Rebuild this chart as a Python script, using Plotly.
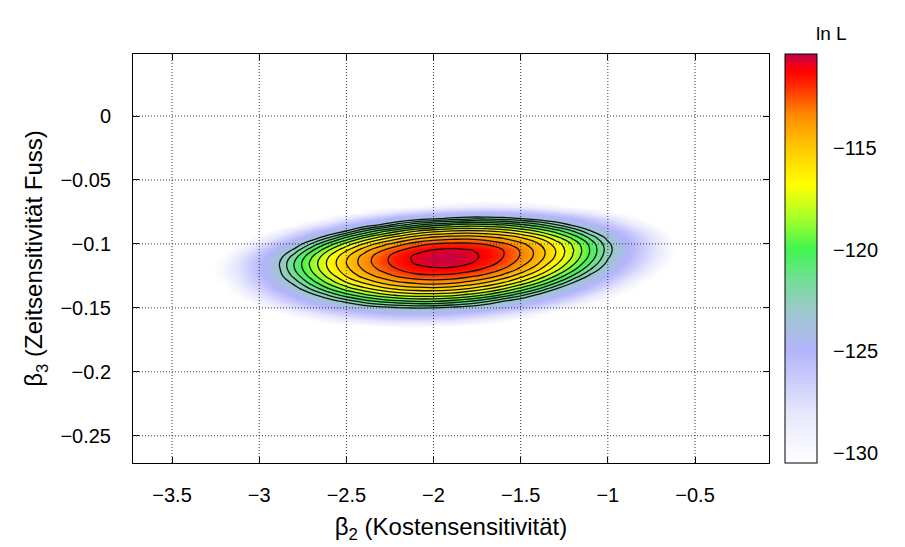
import plotly.graph_objects as go

# grid of beta2 (x) and beta3 (y) values at which ln L was read
beta2 = [-3.3, -3.2, -3.1, -3.0, -2.9, -2.8, -2.7, -2.6, -2.5, -2.4, -2.3, -2.2, -2.1, -2.0,
         -1.9, -1.8, -1.7, -1.6, -1.5, -1.4, -1.3, -1.2, -1.1, -1.0, -0.9, -0.8, -0.7, -0.6]
beta3 = [-0.170, -0.165, -0.160, -0.155, -0.150, -0.145, -0.140, -0.135, -0.130, -0.125, -0.120,
         -0.115, -0.110, -0.105, -0.100, -0.095, -0.090, -0.085, -0.080, -0.075, -0.070, -0.065]

W = -131  # below the colour range: drawn white
# ln L values, one row per beta3 value
lnL_rows = [
    [W, W, W, W, W, W, W, W, W, W, W, W, W, W, W, W, W, W, W, W, W, W, W, W, W, W, W, W],
    [W, W, W, W, W, W, W, W, W, -130.9, -130.5, -130.2, -130.2, -130.4, -130.7, W, W, W, W, W, W, W, W, W, W, W, W, W],
    [W, W, W, W, W, W, -130.7, -129.7, -128.9, -128.3, -127.9, -127.6, -127.6, -127.7, -128.0, -128.5, -129.2, -130.1, W, W, W, W, W, W, W, W, W, W],
    [W, W, W, W, W, -129.7, -128.5, -127.4, -126.6, -125.9, -125.5, -125.2, -125.1, -125.2, -125.5, -126.0, -126.6, -127.5, -128.5, -129.7, W, W, W, W, W, W, W, W],
    [W, W, W, -130.8, -129.2, -127.8, -126.5, -125.5, -124.6, -123.9, -123.4, -123.1, -122.9, -123.0, -123.3, -123.7, -124.3, -125.2, -126.1, -127.3, -128.7, -130.2, W, W, W, W, W, W],
    [W, W, W, -129.2, -127.6, -126.1, -124.8, -123.7, -122.7, -121.6, -120.8, -120.3, -120.0, -120.0, -120.4, -121.0, -121.9, -123.1, -124.0, -125.2, -126.5, -128.0, -129.7, W, W, W, W, W],
    [W, W, -129.8, -127.9, -126.3, -124.8, -123.4, -121.9, -120.4, -119.3, -118.4, -117.8, -117.5, -117.5, -117.7, -118.3, -119.1, -120.3, -121.7, -123.3, -124.6, -126.1, -127.7, -129.6, W, W, W, W],
    [W, -130.9, -128.8, -126.9, -125.1, -123.6, -121.8, -120.0, -118.5, -117.3, -116.4, -115.7, -115.4, -115.3, -115.5, -116.0, -116.8, -117.9, -119.3, -120.9, -122.9, -124.4, -126.0, -127.8, -129.8, W, W, W],
    [W, -130.2, -128.0, -126.1, -124.3, -122.6, -120.5, -118.6, -117.0, -115.8, -114.8, -114.1, -113.7, -113.5, -113.7, -114.2, -114.9, -115.9, -117.2, -118.8, -120.7, -122.9, -124.5, -126.3, -128.3, -130.5, W, W],
    [W, -129.7, -127.6, -125.5, -123.7, -121.7, -119.5, -117.6, -115.9, -114.6, -113.6, -112.8, -112.3, -112.2, -112.3, -112.7, -113.3, -114.3, -115.6, -117.1, -119.0, -121.1, -123.3, -125.1, -127.0, -129.1, W, W],
    [W, -129.5, -127.3, -125.3, -123.5, -121.1, -118.9, -116.9, -115.3, -113.9, -112.8, -112.0, -111.4, -111.2, -111.2, -111.6, -112.2, -113.1, -114.3, -115.8, -117.6, -119.7, -122.0, -124.1, -126.0, -128.1, -130.3, W],
    [W, -129.6, -127.4, -125.3, -123.4, -121.0, -118.7, -116.7, -115.0, -113.5, -112.4, -111.5, -110.9, -110.6, -110.6, -110.9, -111.5, -112.3, -113.5, -114.9, -116.7, -118.7, -121.0, -123.3, -125.2, -127.3, -129.5, W],
    [W, -130.2, -127.8, -125.7, -123.8, -121.5, -119.1, -117.0, -115.2, -113.6, -112.4, -111.5, -110.8, -110.5, -110.4, -110.7, -111.2, -112.0, -113.1, -114.4, -116.1, -118.1, -120.3, -122.8, -124.7, -126.8, -128.9, W],
    [W, W, -128.8, -126.6, -124.6, -122.7, -120.2, -118.0, -116.1, -114.4, -113.1, -112.1, -111.3, -110.9, -110.7, -110.9, -111.3, -112.0, -113.1, -114.4, -116.0, -117.9, -120.1, -122.5, -124.5, -126.5, -128.6, W],
    [W, W, -130.2, -127.9, -125.9, -124.0, -121.9, -119.6, -117.6, -115.9, -114.5, -113.4, -112.5, -112.0, -111.8, -111.8, -112.1, -112.8, -113.7, -114.9, -116.4, -118.2, -120.3, -122.7, -124.6, -126.5, -128.6, W],
    [W, W, W, -129.7, -127.6, -125.7, -123.9, -122.0, -119.9, -118.1, -116.6, -115.4, -114.4, -113.8, -113.5, -113.4, -113.7, -114.2, -115.0, -116.1, -117.6, -119.3, -121.3, -123.4, -125.0, -126.9, -129.0, W],
    [W, W, W, W, -129.8, -127.7, -126.0, -124.4, -122.9, -121.0, -119.4, -118.1, -117.0, -116.3, -115.9, -115.7, -115.9, -116.3, -117.1, -118.1, -119.4, -121.0, -122.9, -124.4, -126.0, -127.8, -129.8, W],
    [W, W, W, W, W, -130.3, -128.5, -126.8, -125.3, -124.0, -122.9, -121.5, -120.3, -119.5, -119.0, -118.7, -118.8, -119.1, -119.8, -120.7, -121.9, -123.3, -124.5, -125.9, -127.4, -129.2, W, W],
    [W, W, W, W, W, W, W, -129.7, -128.1, -126.8, -125.6, -124.6, -123.8, -123.3, -122.8, -122.4, -122.4, -122.6, -123.1, -123.7, -124.4, -125.3, -126.4, -127.7, -129.2, -130.9, W, W],
    [W, W, W, W, W, W, W, W, W, -130.0, -128.8, -127.7, -126.9, -126.3, -125.8, -125.5, -125.4, -125.5, -125.8, -126.3, -127.0, -127.8, -128.8, -130.2, W, W, W, W],
    [W, W, W, W, W, W, W, W, W, W, W, W, -130.4, -129.7, -129.1, -128.8, -128.7, -128.7, -129.0, -129.4, -130.0, -130.8, W, W, W, W, W, W],
    [W, W, W, W, W, W, W, W, W, W, W, W, W, W, W, W, W, W, W, W, W, W, W, W, W, W, W, W],
]

contour_levels = [-123, -122, -121, -120, -119, -118, -117, -116, -115, -114, -113, -112, -111]
x_ticks = [-3.5, -3, -2.5, -2, -1.5, -1, -0.5]
y_ticks = [0, -0.05, -0.1, -0.15, -0.2, -0.25]
cb_ticks = [-115, -120, -125, -130]
cb_min, cb_max = -130.5, -110.37
x_range = [-3.724, -0.0755]
y_range = [-0.2713, 0.0485]

palette = [
    [0.0, '#ffffff'],
    [0.124, '#e6e6fc'],
    [0.273, '#b4b4fc'],
    [0.373, '#9cc8cc'],
    [0.452, '#70e090'],
    [0.522, '#40f550'],
    [0.60, '#a8ff28'],
    [0.68, '#ffff00'],
    [0.77, '#ffc800'],
    [0.85, '#ff8c00'],
    [0.93, '#ff2000'],
    [0.96, '#ff0000'],
    [1.0, '#c0004c'],
]

FONT = 'Liberation Sans, Arial, Helvetica, sans-serif'
FS = 20
PLOT_W = 636          # plot-area width in px (905 - margins)
CB_X, CB_T = 1.0252, 32  # colour bar left edge (paper) and thickness (px)

fig = go.Figure()
fig.add_trace(go.Heatmap(
    x=beta2, y=beta3, z=lnL_rows,
    zmin=cb_min, zmax=cb_max, colorscale=palette, zsmooth='best',
    hoverinfo='skip',
    colorbar=dict(
        x=CB_X, xanchor='left', y=0.5, yanchor='middle',
        len=1, lenmode='fraction', thickness=CB_T, thicknessmode='pixels',
        xpad=0, ypad=0, outlinewidth=1, outlinecolor='black',
        tickvals=cb_ticks, ticks='outside', ticklen=12, tickcolor='rgba(0,0,0,0)',
        tickfont=dict(family=FONT, size=FS, color='black'),
    ),
))
fig.add_trace(go.Contour(
    x=beta2, y=beta3, z=lnL_rows,
    autocontour=False,
    contours=dict(start=contour_levels[0], end=contour_levels[-1], size=1, coloring='none'),
    line=dict(color='#111111', width=1.3, smoothing=1.3),
    showscale=False, hoverinfo='skip',
))

grid_line = dict(color='#333333', width=1, dash='1px,2px')
shapes = []
for xt in x_ticks:
    shapes.append(dict(type='line', xref='x', yref='paper', x0=xt, x1=xt, y0=0, y1=1,
                       line=grid_line, layer='above'))
for yt in y_ticks:
    shapes.append(dict(type='line', xref='paper', yref='y', x0=0, x1=1, y0=yt, y1=yt,
                       line=grid_line, layer='above'))
# small inside tick marks on both edges of the colour bar
cb_right = CB_X + CB_T / PLOT_W
tick_w = 5 / PLOT_W
for v in cb_ticks:
    yp = (v - cb_min) / (cb_max - cb_min)
    for xa, xb in ((CB_X, CB_X + tick_w), (cb_right - tick_w, cb_right)):
        shapes.append(dict(type='line', xref='paper', yref='paper', x0=xa, x1=xb, y0=yp, y1=yp,
                           line=dict(color='black', width=1), layer='above'))

fig.update_layout(
    width=905, height=547,
    margin=dict(l=125, r=144, t=46, b=92),
    paper_bgcolor='white', plot_bgcolor='white',
    font=dict(family=FONT, size=FS, color='black'),
    showlegend=False,
    shapes=shapes,
    annotations=[dict(text='ln L', xref='paper', yref='paper', x=1.099, y=1.051,
                      xanchor='center', yanchor='middle', showarrow=False,
                      font=dict(family=FONT, size=19, color='black'))],
)
fig.update_xaxes(
    range=x_range, tickvals=x_ticks, ticks='inside', ticklen=6, tickcolor='black',
    showgrid=False, zeroline=False, showline=True, mirror='ticks',
    linecolor='black', linewidth=1, ticklabelstandoff=14,
    title=dict(text='β<sub>2</sub> (Kostensensitivität)', standoff=13),
)
fig.update_yaxes(
    range=y_range, tickvals=y_ticks, ticks='inside', ticklen=6, tickcolor='black',
    showgrid=False, zeroline=False, showline=True, mirror='ticks',
    linecolor='black', linewidth=1, ticklabelstandoff=17,
    title=dict(text='β<sub>3</sub> (Zeitsensitivität Fuss)', standoff=10),
)

fig.write_html('out.html')
